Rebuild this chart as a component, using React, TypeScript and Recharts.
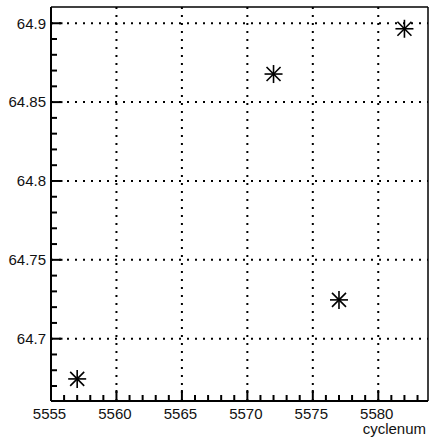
import React from "react";
import {
  ScatterChart,
  Scatter,
  XAxis,
  YAxis,
  ReferenceLine,
} from "recharts";

const cyclenum = [5557, 5572, 5577, 5582];
const values = [64.6745, 64.8678, 64.7246, 64.8965];

const xDomain = [5555, 5583.8];
const yDomain = [64.6605, 64.9103];

const xMajorTicks = [5555, 5560, 5565, 5570, 5575, 5580];
const xMinorTicks = [
  5556, 5557, 5558, 5559, 5561, 5562, 5563, 5564, 5566, 5567, 5568, 5569,
  5571, 5572, 5573, 5574, 5576, 5577, 5578, 5579, 5581, 5582, 5583,
];
const xTickLabels = ["5555", "5560", "5565", "5570", "5575", "5580"];

const yMajorTicks = [64.7, 64.75, 64.8, 64.85, 64.9];
const yTickLabels = ["64.7", "64.75", "64.8", "64.85", "64.9"];
const yMinorTicks = [
  64.67, 64.68, 64.69, 64.71, 64.72, 64.73, 64.74, 64.76, 64.77, 64.78,
  64.79, 64.81, 64.82, 64.83, 64.84, 64.86, 64.87, 64.88, 64.89,
];

const xAxisTitle = "cyclenum";

const data = cyclenum.map((c, i) => ({ x: c, y: values[i] }));

const FONT = "'Liberation Sans', Arial, Helvetica, sans-serif";
const FS = 15;
const TICK_W = 2;

const majorIndex = (list: number[], v: number) =>
  list.findIndex((m) => Math.abs(m - v) < 1e-6);

const XTick = (props: any) => {
  const { x, y, payload } = props;
  const idx = majorIndex(xMajorTicks, payload.value);
  const len = idx >= 0 ? 11 : 6;
  return (
    <g>
      <line x1={x} x2={x} y1={y} y2={y - len} stroke="#000" strokeWidth={TICK_W} />
      {idx >= 0 && (
        <text x={x - 1.5} y={y + 18} textAnchor="middle" fontFamily={FONT} fontSize={FS} fill="#111">
          {xTickLabels[idx]}
        </text>
      )}
    </g>
  );
};

const YTick = (props: any) => {
  const { x, y, payload } = props;
  const idx = majorIndex(yMajorTicks, payload.value);
  const len = idx >= 0 ? 11.5 : 6;
  return (
    <g>
      <line x1={x} x2={x + len} y1={y} y2={y} stroke="#000" strokeWidth={TICK_W} />
      {idx >= 0 && (
        <text x={x - 5} y={y + 5.3} textAnchor="end" fontFamily={FONT} fontSize={FS} fill="#111">
          {yTickLabels[idx]}
        </text>
      )}
    </g>
  );
};

const Asterisk = (props: any) => {
  const { cx, cy } = props;
  if (cx == null || cy == null) return null;
  const a = 9;
  const d = 7;
  return (
    <g stroke="#000" strokeWidth={1.6}>
      <line x1={cx - a} x2={cx + a} y1={cy} y2={cy} />
      <line x1={cx} x2={cx} y1={cy - a} y2={cy + a} />
      <line x1={cx - d} x2={cx + d} y1={cy - d} y2={cy + d} />
      <line x1={cx - d} x2={cx + d} y1={cy + d} y2={cy - d} />
    </g>
  );
};

const XTitle = (props: any) => {
  const { viewBox } = props;
  return (
    <text x={viewBox.x + viewBox.width - 2} y={viewBox.y + 33} textAnchor="end" fontFamily={FONT} fontSize={FS} fill="#111">
      {xAxisTitle}
    </text>
  );
};

export default function App() {
  const xTicks = [...xMajorTicks, ...xMinorTicks].sort((a, b) => a - b);
  const yTicks = [...yMajorTicks, ...yMinorTicks].sort((a, b) => a - b);
  const grid = { stroke: "#000", strokeWidth: 2, strokeDasharray: "2 6" };
  return (
    <div style={{ position: "absolute", left: 0, top: 0, background: "#fff" }}>
      <ScatterChart width={430} height={439} margin={{ top: 7, right: 2, left: 0, bottom: 0 }}>
        <XAxis
          type="number"
          dataKey="x"
          domain={xDomain}
          allowDataOverflow
          ticks={xTicks}
          interval={0}
          tickSize={0}
          tickMargin={0}
          tickLine={false}
          tick={<XTick />}
          height={38}
          axisLine={{ stroke: "#000", strokeWidth: 2 }}
          label={<XTitle />}
        />
        <YAxis
          type="number"
          dataKey="y"
          domain={yDomain}
          allowDataOverflow
          ticks={yTicks}
          interval={0}
          tickSize={0}
          tickMargin={0}
          tickLine={false}
          tick={<YTick />}
          width={51}
          axisLine={{ stroke: "#000", strokeWidth: 2 }}
        />
        {xMajorTicks.slice(1).map((v) => (
          <ReferenceLine key={"vx" + v} x={v} {...grid} />
        ))}
        {yMajorTicks.map((v) => (
          <ReferenceLine key={"hy" + v} y={v} {...grid} />
        ))}
        <ReferenceLine x={xDomain[1]} stroke="#000" strokeWidth={1.5} />
        <ReferenceLine y={yDomain[1]} stroke="#000" strokeWidth={1.5} />
        <Scatter data={data} shape={<Asterisk />} isAnimationActive={false} />
      </ScatterChart>
    </div>
  );
}
